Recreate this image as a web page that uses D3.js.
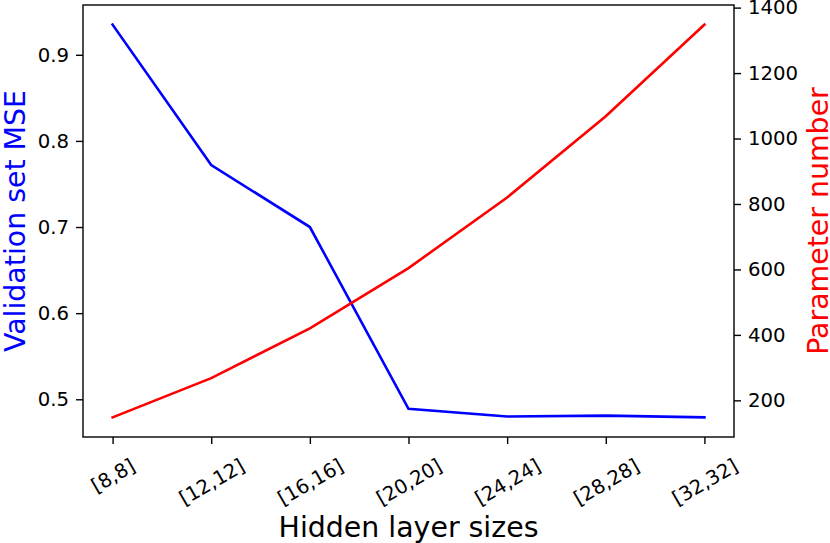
<!DOCTYPE html>
<html>
<head>
<meta charset="utf-8">
<script src="https://cdn.jsdelivr.net/npm/d3@7"></script>
<style>
  body { margin: 0; background: #fff; }
  text { font-family: "DejaVu Sans", sans-serif; }
</style>
</head>
<body>
<script>
// data
var sizes = ["[8,8]", "[12,12]", "[16,16]", "[20,20]", "[24,24]", "[28,28]", "[32,32]"];
var mse = [0.935, 0.772, 0.700, 0.489, 0.480, 0.481, 0.479];
var params = [148, 268, 420, 604, 820, 1068, 1348];
var mseTicks = [0.5, 0.6, 0.7, 0.8, 0.9];
var paramTicks = [200, 400, 600, 800, 1000, 1200, 1400];

var width = 830, height = 543;
var plotL = 83, plotR = 734, plotT = 5, plotB = 437;
var tickFont = 19.7, labelFont = 28.4;

var svg = d3.select("body").append("svg").attr("width", width).attr("height", height);

// matplotlib style 5% margins
function pad(arr) {
  var lo = d3.min(arr), hi = d3.max(arr), m = (hi - lo) * 0.05;
  return [lo - m, hi + m];
}

var x = d3.scaleLinear().domain([-0.3, sizes.length - 1 + 0.3]).range([plotL, plotR]);
var yL = d3.scaleLinear().domain(pad(mse)).range([plotB, plotT]);
var yR = d3.scaleLinear().domain(pad(params)).range([plotB, plotT]);

// lines
svg.append("path")
  .datum(mse)
  .attr("d", d3.line().x(function(d, i) { return x(i); }).y(function(d) { return yL(d); }))
  .attr("fill", "none").attr("stroke", "#0000ff").attr("stroke-width", 2.6)
  .attr("stroke-linecap", "square");

svg.append("path")
  .datum(params)
  .attr("d", d3.line().x(function(d, i) { return x(i); }).y(function(d) { return yR(d); }))
  .attr("fill", "none").attr("stroke", "#ff0000").attr("stroke-width", 2.6)
  .attr("stroke-linecap", "square");

// frame
svg.append("rect")
  .attr("x", plotL).attr("y", plotT).attr("width", plotR - plotL).attr("height", plotB - plotT)
  .attr("fill", "none").attr("stroke", "#000").attr("stroke-width", 1.4);

// left axis
var gl = svg.append("g").attr("transform", "translate(" + plotL + ",0)")
  .call(d3.axisLeft(yL).tickValues(mseTicks).tickFormat(d3.format(".1f")).tickSize(7).tickPadding(7));

// right axis
var gr = svg.append("g").attr("transform", "translate(" + plotR + ",0)")
  .call(d3.axisRight(yR).tickValues(paramTicks).tickFormat(d3.format("d")).tickSize(7).tickPadding(7));

// bottom axis
var gb = svg.append("g").attr("transform", "translate(0," + plotB + ")")
  .call(d3.axisBottom(x).tickValues(d3.range(sizes.length)).tickFormat(function(i) { return sizes[i]; }).tickSize(7));

[gl, gr, gb].forEach(function(g) {
  g.attr("font-size", null).attr("font-family", null);
  g.select(".domain").remove();
  g.selectAll(".tick line").attr("stroke", "#000").attr("stroke-width", 1.4);
  g.selectAll(".tick text").attr("fill", "#000")
    .style("font-family", "DejaVu Sans").style("font-size", tickFont + "px");
});

// rotated x labels, bbox centred on the tick like matplotlib
var labelTop = 454;
gb.selectAll(".tick text").each(function() {
  var t = d3.select(this);
  var w = this.getComputedTextLength();
  var h = tickFont * 1.17;
  var H = w * Math.sin(Math.PI / 6) + h * Math.cos(Math.PI / 6);
  var cy = labelTop - plotB + H / 2;
  t.attr("y", 0).attr("dy", "0.35em").attr("text-anchor", "middle")
    .attr("transform", "translate(0," + cy + ") rotate(-30)");
});

// axis titles
svg.append("text")
  .attr("transform", "translate(25," + (plotT + plotB) / 2 + ") rotate(-90)")
  .attr("text-anchor", "middle").attr("fill", "#0000ff")
  .style("font-size", labelFont + "px")
  .text("Validation set MSE");

svg.append("text")
  .attr("transform", "translate(828," + (plotT + plotB) / 2 + ") rotate(-90)")
  .attr("text-anchor", "middle").attr("fill", "#ff0000")
  .style("font-size", labelFont + "px")
  .text("Parameter number");

svg.append("text")
  .attr("x", (plotL + plotR) / 2).attr("y", 537)
  .attr("text-anchor", "middle").attr("fill", "#000")
  .style("font-size", labelFont + "px")
  .text("Hidden layer sizes");
</script>
</body>
</html>
